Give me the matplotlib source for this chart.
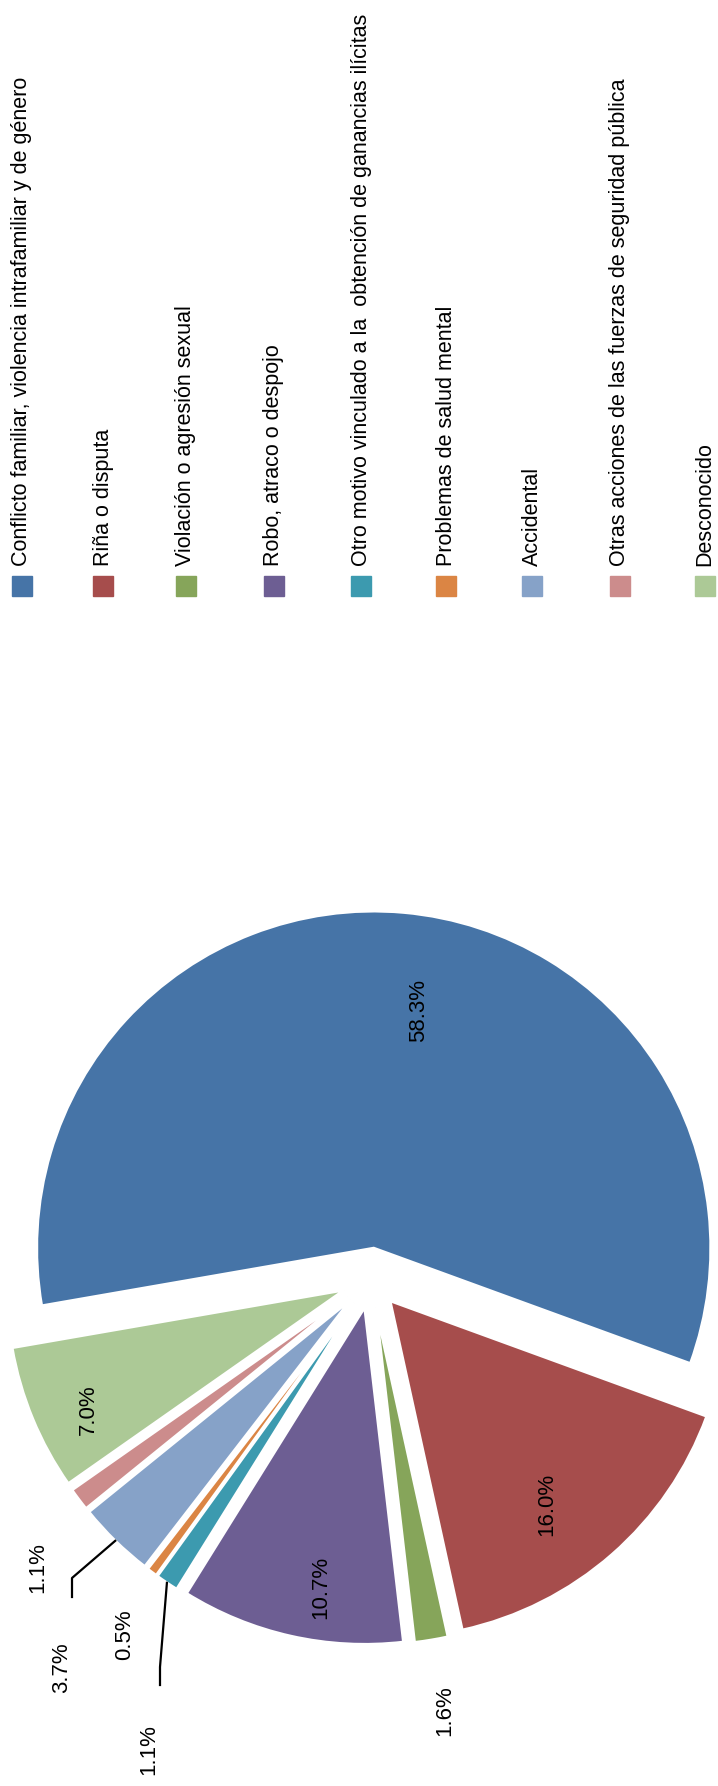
import matplotlib
matplotlib.use('Agg')
import numpy as np
from matplotlib import pyplot as plt
from matplotlib.patches import Rectangle

# data
categorias = ['Conflicto familiar, violencia intrafamiliar y de género',
              'Riña o disputa',
              'Violación o agresión sexual',
              'Robo, atraco o despojo',
              'Otro motivo vinculado a la  obtención de ganancias ilícitas',
              'Problemas de salud mental',
              'Accidental',
              'Otras acciones de las fuerzas de seguridad pública',
              'Desconocido']
porcentajes = [58.3, 16.0, 1.6, 10.7, 1.1, 0.5, 3.7, 1.1, 7.0]
colores = ['#4674A7', '#A64D4C', '#86A55A', '#6D5E93', '#3C9AAF',
           '#DB8544', '#86A2C8', '#CC8C8C', '#ACC996']

# layout (figure pixels, y up)
W, H = 718, 1786
centro = (371, 507)
radio = 337
explode = [31, 29, 29, 29, 29, 29, 29, 29, 29]
lab_xy = [(419, 776), (547, 282), (445, 75), (321, 199), (149, 36),
          (125, 151), (62, 118), (38, 218), (88, 376)]
# leader lines: (slice index, elbow point, end point)
guias = [(4, (160, 119), (160, 101)),
         (6, (72, 208), (72, 189))]
leg_x = [22, 103, 186, 274, 361, 446, 532, 620, 705]
leg_y = 1190

plt.rcParams['font.family'] = ['Liberation Sans', 'DejaVu Sans']

fig = plt.figure(figsize=(W / 100, H / 100), dpi=100)
ax = fig.add_axes([0, 0, 1, 1])

wedges, _ = ax.pie(porcentajes, colors=colores, startangle=189.85,
                   counterclock=False, radius=radio, center=centro,
                   explode=explode,
                   wedgeprops=dict(edgecolor='white', linewidth=2))
ax.set_xlim(0, W)
ax.set_ylim(0, H)
ax.set_aspect('equal')
ax.axis('off')

for i, (x, y) in enumerate(lab_xy):
    ax.text(x, y, f'{porcentajes[i]:.1f}%', rotation=90, ha='center',
            va='center', fontsize=16, color='black')

for i, codo, fin in guias:
    w = wedges[i]
    th = np.deg2rad((w.theta1 + w.theta2) / 2)
    x0 = w.center[0] + w.r * np.cos(th)
    y0 = w.center[1] + w.r * np.sin(th)
    ax.plot([x0, codo[0], fin[0]], [y0, codo[1], fin[1]], color='black', lw=1.6)

for i, nombre in enumerate(categorias):
    ax.add_patch(Rectangle((leg_x[i] - 10, leg_y), 20, 20, color=colores[i]))
    ax.text(leg_x[i], leg_y + 30, nombre, rotation=90, ha='center', va='bottom',
            fontsize=15.5, color='black')

fig.savefig('out.png', dpi=100)
